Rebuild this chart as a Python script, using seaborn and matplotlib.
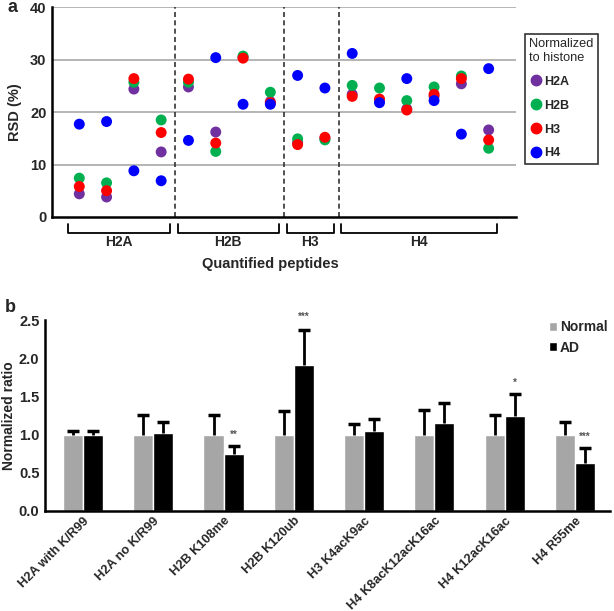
import numpy as np
import pandas as pd
import matplotlib
matplotlib.use("Agg")
import matplotlib.pyplot as plt
import matplotlib.transforms as mtransforms
import seaborn as sns

# ---- panel a data: RSD (%) of 16 quantified peptides, normalized to each histone
peptide_pos = list(range(1, 17))
rsd_h2a = [4.4, 3.8, 24.4, 12.4, 24.8, 16.2, 30.5, 22.0, 14.2, 15.0, 23.4, 22.3, 20.6, 23.0, 25.4, 16.6]
rsd_h2b = [7.4, 6.5, 25.7, 18.5, 25.7, 12.5, 30.7, 23.8, 14.9, 14.7, 25.1, 24.6, 22.2, 24.8, 26.9, 13.1]
rsd_h3 = [5.8, 5.0, 26.4, 16.1, 26.3, 14.1, 30.3, 21.8, 13.8, 15.2, 23.0, 22.5, 20.4, 23.4, 26.4, 14.7]
rsd_h4 = [17.7, 18.2, 8.8, 6.9, 14.6, 30.4, 21.5, 21.5, 27.0, 24.6, 31.2, 21.8, 26.4, 22.2, 15.8, 28.3]
histones = ["H2A", "H2B", "H3", "H4"]
group_names = ["H2A", "H2B", "H3", "H4"]
group_first = [1, 5, 9, 11]
group_last = [4, 8, 10, 16]

# ---- panel b data
peptides_b = ["H2A with K/R99", "H2A no K/R99", "H2B K108me", "H2B K120ub",
              "H3 K4acK9ac", "H4 K8acK12acK16ac", "H4 K12acK16ac", "H4 R55me"]
normal_ratio = [1.0, 1.0, 1.0, 1.0, 1.0, 1.0, 1.0, 1.0]
ad_ratio = [1.0, 1.02, 0.75, 1.91, 1.05, 1.15, 1.245, 0.63]
normal_upper = [1.04, 1.25, 1.26, 1.31, 1.14, 1.32, 1.26, 1.16]
ad_upper = [1.04, 1.17, 0.85, 2.37, 1.21, 1.41, 1.53, 0.82]
star_labels = ["", "", "**", "***", "", "", "*", "***"]
star_y = [0, 0, 1.0, 2.54, 0, 0, 1.68, 0.97]

sns.set_style("white")
plt.rcParams["font.family"] = ["Liberation Sans", "DejaVu Sans"]
plt.rcParams["font.weight"] = "bold"

fig = plt.figure(figsize=(6.14, 6.11), dpi=100)

# ================= panel a =================
ax1 = fig.add_axes([0.0847, 0.645, 0.7556, 0.343])
rsd_df = pd.DataFrame({
    "pos": peptide_pos * 4,
    "rsd": rsd_h2a + rsd_h2b + rsd_h3 + rsd_h4,
    "histone": np.repeat(histones, len(peptide_pos)),
})
pal = {"H2A": "#7030A0", "H2B": "#00B050", "H3": "#FF0000", "H4": "#0000FF"}
sns.scatterplot(data=rsd_df, x="pos", y="rsd", hue="histone", palette=pal,
                s=62, edgecolor="none", ax=ax1, legend=False, zorder=3)
ax1.set_xlim(0, 17)
ax1.set_ylim(0, 40)
ax1.set_yticks([0, 10, 20, 30, 40])
ax1.set_xticks([])
for y in [10, 20, 30, 40]:
    ax1.axhline(y, color="#A0A0A0", lw=1.1, zorder=1)
for g in range(1, len(group_first)):
    ax1.axvline((group_last[g - 1] + group_first[g]) / 2, color="#333333",
                lw=1.2, ls=(0, (3, 2)), zorder=2)
for s in ["top", "right"]:
    ax1.spines[s].set_visible(False)
for s in ["left", "bottom"]:
    ax1.spines[s].set_color("black")
    ax1.spines[s].set_linewidth(1.8)
ax1.tick_params(axis="y", length=0, labelsize=10.5, pad=4)
for t in ax1.get_yticklabels():
    t.set_fontweight("bold")
ax1.set_xlabel("")
ax1.set_ylabel("RSD (%)", fontsize=10.5, fontweight="bold", labelpad=6)

# group brackets below axis
trans = mtransforms.blended_transform_factory(ax1.transData, ax1.transAxes)
for name, a, b in zip(group_names, group_first, group_last):
    x0, x1 = a - 0.4, b + 0.32
    ax1.plot([x0, x0, x1, x1], [-0.032, -0.075, -0.075, -0.032], color="black",
             lw=1.3, transform=trans, clip_on=False)
    ax1.text((x0 + x1) / 2, -0.118, name, transform=trans, ha="center",
             va="center", fontsize=10, fontweight="bold")
ax1.text(0.47, -0.225, "Quantified peptides", transform=ax1.transAxes,
         ha="center", va="center", fontsize=10.5, fontweight="bold")

handles = [plt.Line2D([], [], marker="o", ls="", color=pal[h], markersize=7.5) for h in histones]
leg1 = fig.legend(handles, histones, title="Normalized\nto histone",
                  loc="upper left", bbox_to_anchor=(0.845, 0.955),
                  frameon=True, fancybox=False, edgecolor="black",
                  handletextpad=0.05, handlelength=1.1, labelspacing=0.95,
                  borderpad=0.35, prop={"size": 9, "weight": "bold"},
                  title_fontproperties={"size": 9.2, "weight": "normal"})
leg1._legend_box.align = "left"
leg1.get_frame().set_linewidth(1.2)

fig.text(0.013, 0.987, "a", fontsize=13, fontweight="bold", va="center")

# ================= panel b =================
ax2 = fig.add_axes([0.0733, 0.164, 0.9203, 0.312])
bar_df = pd.DataFrame({
    "peptide": peptides_b * 2,
    "ratio": normal_ratio + ad_ratio,
    "group": ["Normal"] * len(peptides_b) + ["AD"] * len(peptides_b),
})
sns.barplot(data=bar_df, x="peptide", y="ratio", hue="group",
            palette={"Normal": "#A6A6A6", "AD": "black"}, width=0.57,
            errorbar=None, ax=ax2, saturation=1, zorder=2)

# upper-only error bars
for cont, vals, upp in zip(ax2.containers, [normal_ratio, ad_ratio], [normal_upper, ad_upper]):
    xs = [bar.get_x() + bar.get_width() / 2 for bar in cont]
    ax2.vlines(xs, vals, upp, color="black", lw=2, zorder=3)
    ax2.plot(xs, upp, ls="", marker="_", markersize=8, markeredgewidth=2.5,
             color="black", zorder=3)

ad_x = [bar.get_x() + bar.get_width() / 2 for bar in ax2.containers[1]]
for x, lab, y in zip(ad_x, star_labels, star_y):
    if lab:
        ax2.text(x, y, lab, ha="center", va="center", fontsize=7, color="#555555")

ax2.set_xlim(-0.54, 7.5)
ax2.set_ylim(0, 2.5)
ax2.set_yticks([0, 0.5, 1.0, 1.5, 2.0, 2.5])
ax2.set_yticklabels(["0.0", "0.5", "1.0", "1.5", "2.0", "2.5"])
for s in ["top", "right"]:
    ax2.spines[s].set_visible(False)
for s in ["left", "bottom"]:
    ax2.spines[s].set_color("black")
    ax2.spines[s].set_linewidth(1.8)
ax2.tick_params(axis="y", length=0, labelsize=10.5, pad=4)
ax2.tick_params(axis="x", length=0, labelsize=9.2, pad=3)
for t in ax2.get_yticklabels():
    t.set_fontweight("bold")
for t in ax2.get_xticklabels():
    t.set_rotation(45)
    t.set_ha("right")
    t.set_rotation_mode("anchor")
    t.set_fontweight("bold")
ax2.set_xlabel("")
ax2.set_ylabel("Normalized ratio", fontsize=10, fontweight="bold", labelpad=2)

ax2.legend(loc="upper left", bbox_to_anchor=(0.889, 0.48),
           bbox_transform=fig.transFigure, frameon=False,
           handlelength=0.6, handleheight=0.6, handletextpad=0.2,
           labelspacing=0.45, borderpad=0.1, borderaxespad=0.1,
           prop={"size": 10, "weight": "bold"})

fig.text(0.008, 0.497, "b", fontsize=13, fontweight="bold", va="center")

fig.savefig("out.png", dpi=100)
